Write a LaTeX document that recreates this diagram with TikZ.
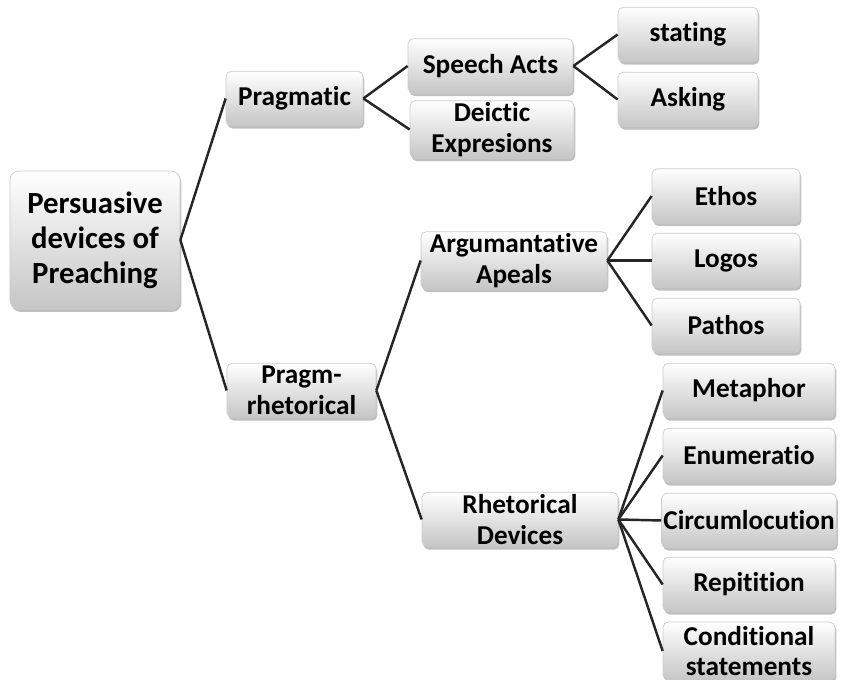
\documentclass[tikz,border=0pt]{standalone}
\usepackage{fontspec}
\setmainfont{Carlito}[Ligatures=NoCommon]
\usetikzlibrary{shadows}

\tikzset{
  box/.style={rectangle, rounded corners=3pt, draw=gray!40, line width=0.4pt,
    top color=white, bottom color=gray!45,
    drop shadow={opacity=0.5, shadow xshift=0.8pt, shadow yshift=-1.6pt},
    font=\bfseries\fontsize{15.5}{17.5}\selectfont, align=center,
    inner sep=1pt, minimum height=1.09cm},
  rootbox/.style={box, rounded corners=5pt,
    font=\bfseries\fontsize{17.5}{20}\selectfont,
    minimum width=3.4cm, minimum height=2.76cm},
  link/.style={draw=black!85, line width=1.4pt},
}

\begin{document}
\begin{tikzpicture}

  \useasboundingbox (0, 0) rectangle (16.82, 13.6);

  % --- radice ---
  \node[rootbox] (root) at (1.90, 8.80) {Persuasive\\devices of\\Preaching};

  % --- primo livello ---
  \node[box, minimum width=2.74cm] (prag) at (5.89, 11.63) {Pragmatic};
  \node[box, minimum width=2.98cm] (prhet) at (6.03, 5.79) {Pragm-\\rhetorical};

  % --- ramo pragmatico ---
  \node[box, minimum width=3.30cm] (speech) at (9.81, 12.28) {Speech Acts};
  \node[box, minimum width=3.28cm] (deictic) at (9.84, 11.01) {Deictic\\Expresions};
  \node[box, minimum width=2.80cm] (stating) at (13.76, 12.91) {stating};
  \node[box, minimum width=2.80cm] (asking) at (13.76, 11.61) {Asking};

  % --- appelli argomentativi ---
  \node[box, minimum width=3.72cm] (appeals) at (10.28, 8.39) {Argumantative\\Apeals};
  \node[box, minimum width=2.96cm] (ethos) at (14.52, 9.68) {Ethos};
  \node[box, minimum width=2.96cm] (logos) at (14.52, 8.39) {Logos};
  \node[box, minimum width=2.96cm] (pathos) at (14.52, 7.09) {Pathos};

  % --- dispositivi retorici ---
  \node[box, minimum width=3.92cm] (rhdev) at (10.40, 3.21) {Rhetorical\\Devices};
  \node[box, minimum width=3.44cm] (metaphor) at (14.98, 5.79) {Metaphor};
  \node[box, minimum width=3.44cm] (enum) at (14.98, 4.49) {Enumeratio};
  \node[box, minimum width=3.44cm] (circum) at (14.98, 3.19) {Circumlocution};
  \node[box, minimum width=3.44cm] (repit) at (14.98, 1.91) {Repitition};
  \node[box, minimum width=3.44cm, minimum height=1.16cm] (cond) at (14.98, 0.58) {Conditional\\statements};

  % --- collegamenti ---
  \draw[link] (root.east) -- (prag.west);
  \draw[link] (root.east) -- (prhet.west);
  \draw[link] (prag.east) -- (speech.west);
  \draw[link] (prag.east) -- (deictic.west);
  \draw[link] (speech.east) -- (stating.west);
  \draw[link] (speech.east) -- (asking.west);
  \draw[link] (prhet.east) -- (appeals.west);
  \draw[link] (prhet.east) -- (rhdev.west);
  \foreach \n in {ethos, logos, pathos}
    \draw[link] (appeals.east) -- (\n.west);
  \foreach \n in {metaphor, enum, circum, repit, cond}
    \draw[link] (rhdev.east) -- (\n.west);

\end{tikzpicture}
\end{document}
